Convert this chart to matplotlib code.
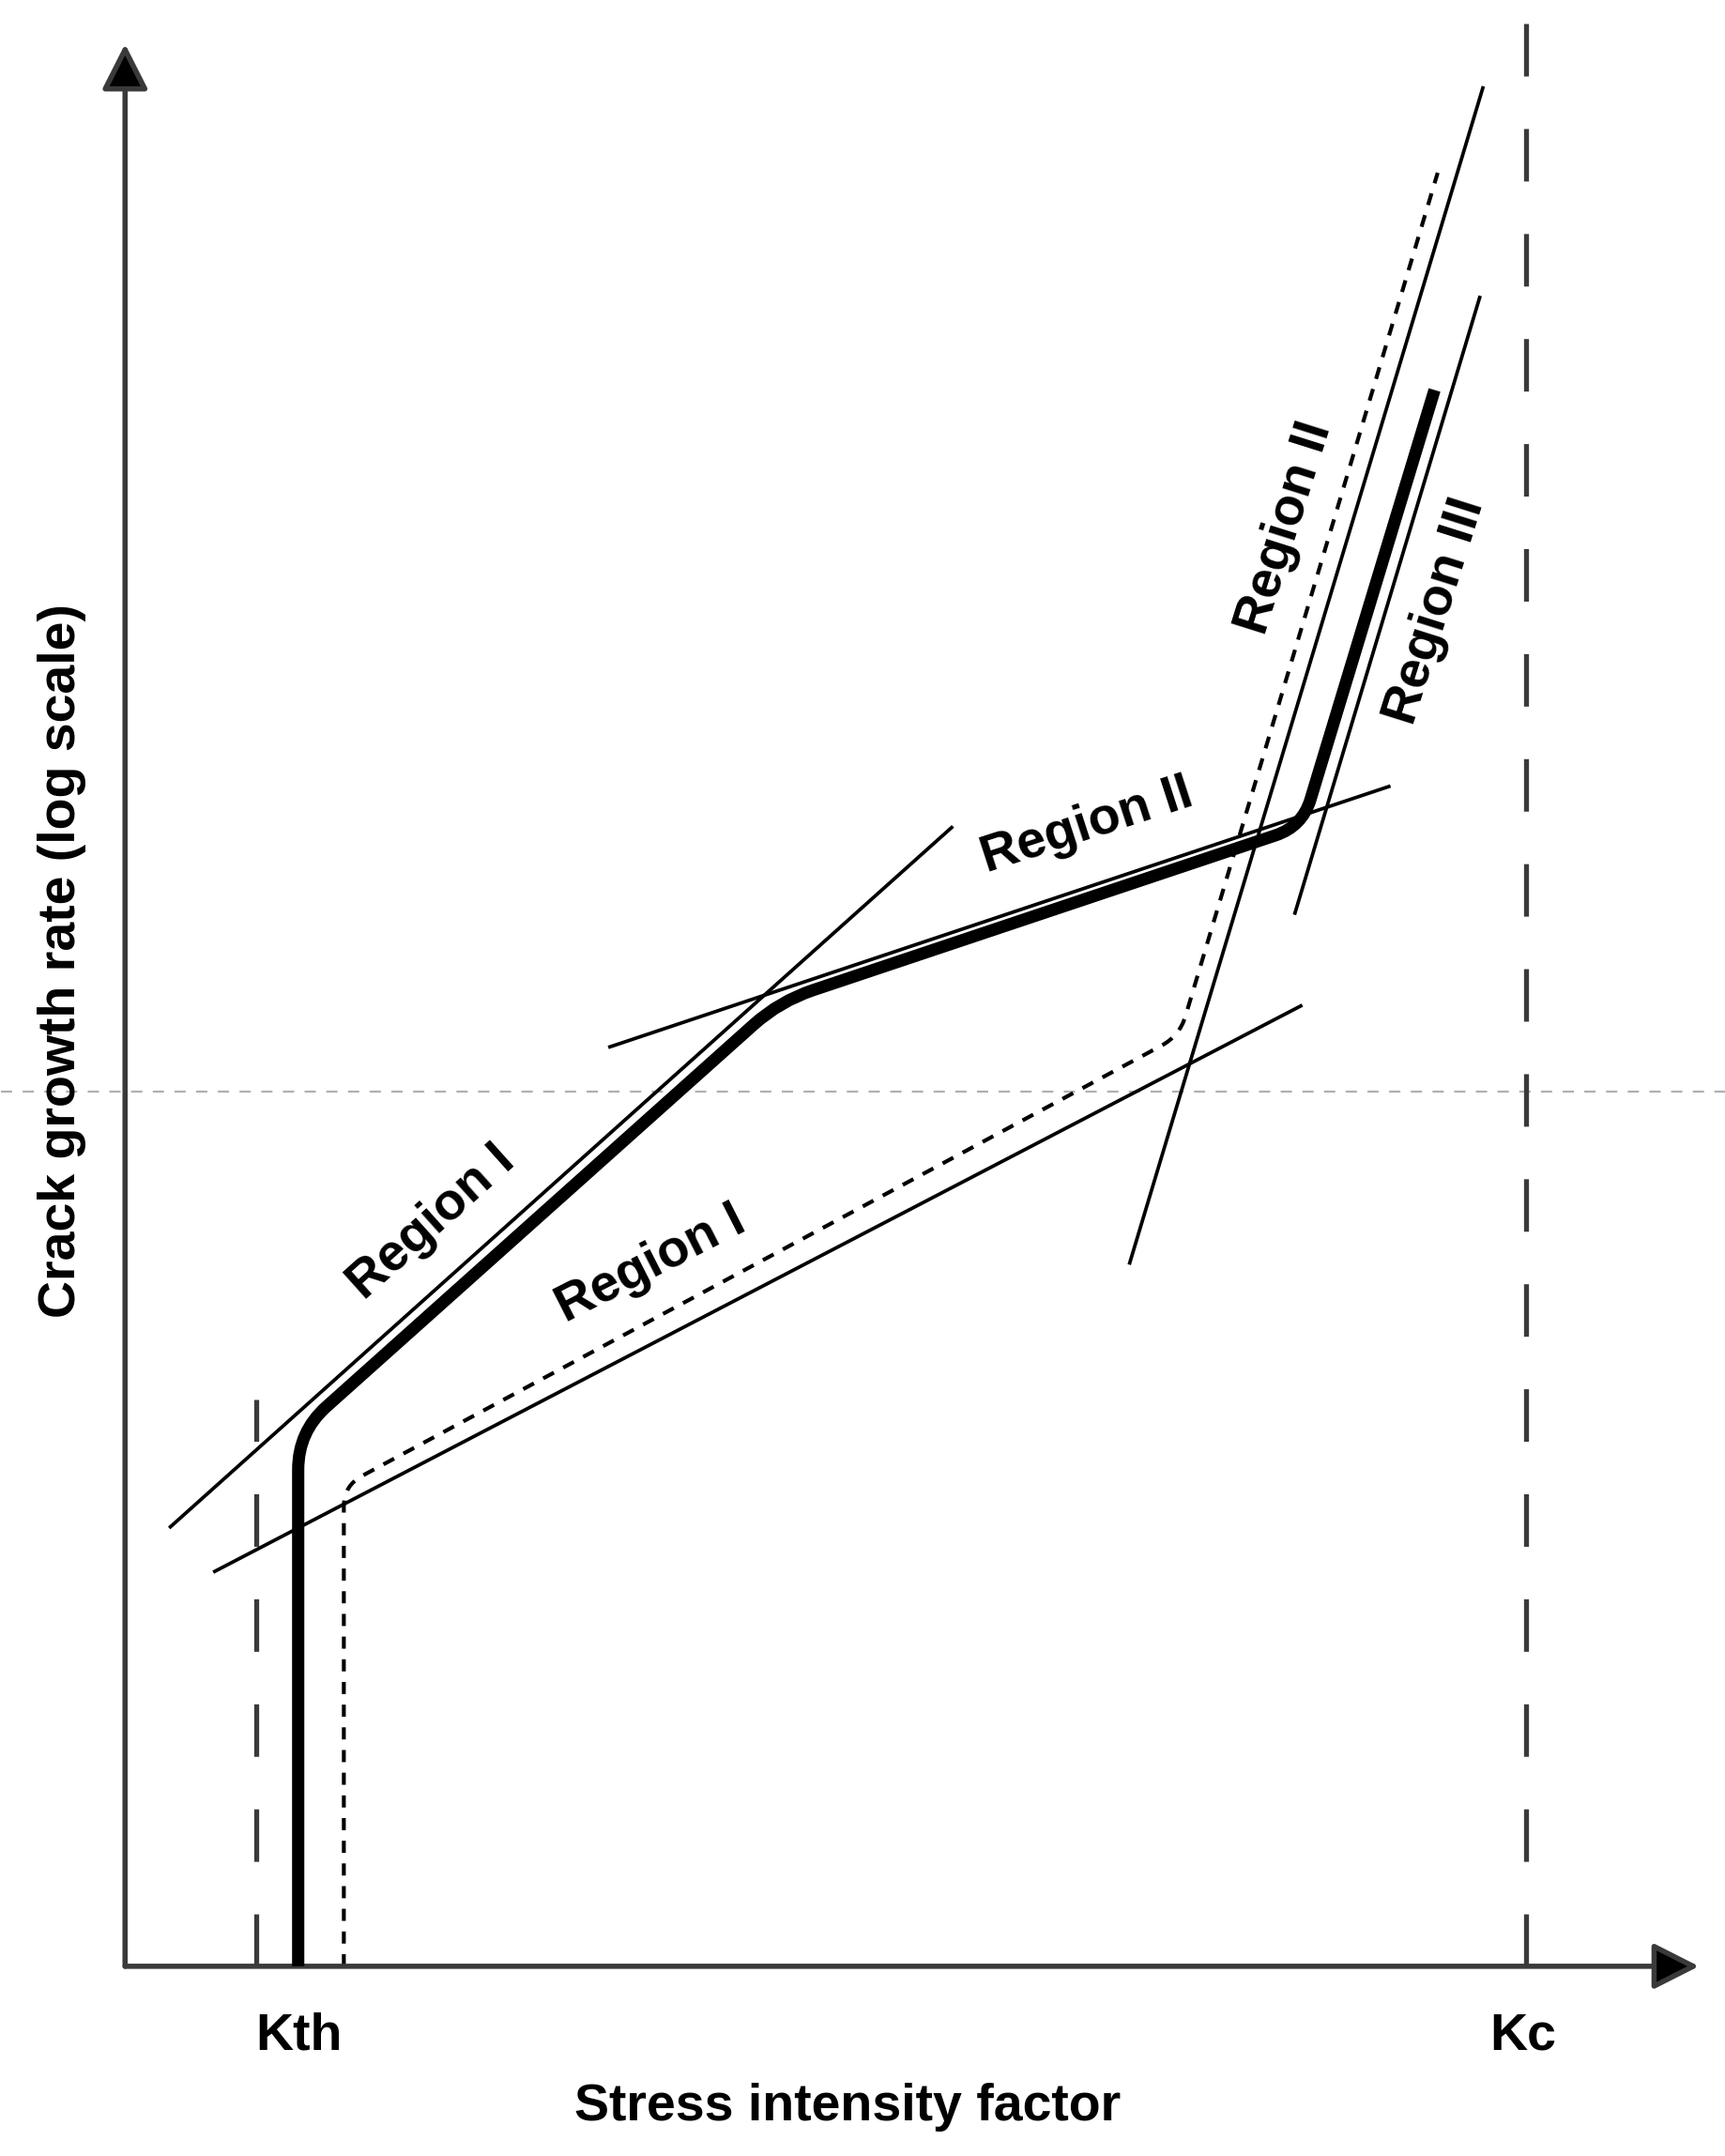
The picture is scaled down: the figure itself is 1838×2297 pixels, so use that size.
import numpy as np
import matplotlib
matplotlib.use('Agg')
import matplotlib.pyplot as plt
from matplotlib.path import Path
from matplotlib.patches import PathPatch

plt.rcParams['font.family'] = ['Liberation Sans', 'DejaVu Sans']

# schematic units: x = stress intensity factor, y = crack growth rate (log), origin at axes corner
k_th = 8.35
k_c = 89.0
ref_level = 45.5          # grey reference level

# thick curve and dashed (shifted) curve, corner points
main_x = [11.0, 11.0, 41.6, 74.8, 83.2]
main_y = [0.0, 27.8, 50.2, 59.3, 82.0]
shift_x = [13.9, 13.9, 67.0, 83.4]
shift_y = [0.0, 25.0, 48.4, 93.3]

# thin tangent lines: ([x0, x1], [y0, y1])
tangent_x = [[2.8, 52.6], [5.6, 74.8], [30.7, 80.4], [63.8, 86.3], [74.3, 86.1]]
tangent_y = [[22.8, 59.3], [20.5, 50.0], [47.8, 61.4], [36.5, 97.8], [54.7, 86.9]]

region_labels = ['Region I', 'Region I', 'Region II', 'Region II', 'Region III']
label_x = [19.5, 33.4, 61.1, 73.7, 83.3]
label_y = [38.7, 36.5, 59.3, 74.8, 70.5]
label_rot = [41.9, 27.0, 18.0, 72.5, 72.5]

DPI = 200
fig = plt.figure(figsize=(9.19, 11.485), dpi=DPI)
ax = fig.add_axes([0.0725, 0.088, 0.9124, 0.8916])
ax.set_xlim(0, 100)
ax.set_ylim(0, 100)
ax.axis('off')


def rounded(xs, ys, cuts):
    # polyline with corners rounded off (cuts given in pixels)
    pts = ax.transData.transform(np.column_stack([xs, ys]))
    verts = [pts[0]]
    codes = [Path.MOVETO]
    for i in range(1, len(pts) - 1):
        p0, p1, p2 = pts[i - 1], pts[i], pts[i + 1]
        d1 = (p0 - p1) / np.hypot(*(p0 - p1))
        d2 = (p2 - p1) / np.hypot(*(p2 - p1))
        r = cuts[i - 1]
        verts += [p1 + d1 * r, p1, p1 + d2 * r]
        codes += [Path.LINETO, Path.CURVE3, Path.CURVE3]
    verts.append(pts[-1])
    codes.append(Path.LINETO)
    verts = ax.transData.inverted().transform(np.array(verts))
    return Path(verts, codes)


# grey reference line
ax.plot([-7.9, 101.7], [ref_level, ref_level], color='#b0b0b0', lw=0.8,
        linestyle=(0, (5.4, 5.0)), clip_on=False, zorder=1)

# Kth and Kc
ax.plot([k_th, k_th], [0, 29.5], color='#3a3a3a', lw=1.9,
        linestyle=(0, (10.6, 10.6)), clip_on=False, zorder=2)
ax.plot([k_c, k_c], [0, 102.3], color='#3a3a3a', lw=1.9,
        linestyle=(0, (10.6, 10.6)), clip_on=False, zorder=2)

# tangents
for tx, ty in zip(tangent_x, tangent_y):
    ax.plot(tx, ty, color='black', lw=1.35, solid_capstyle='butt', zorder=3)

# curves
ax.add_patch(PathPatch(rounded(shift_x, shift_y, [22, 22]), fill=False, ec='black',
                       lw=1.5, linestyle=(0, (3.1, 2.7)), capstyle='butt', zorder=3))
ax.add_patch(PathPatch(rounded(main_x, main_y, [40, 37, 30]), fill=False, ec='black',
                       lw=4.7, capstyle='butt', joinstyle='round', zorder=4))

# axes with arrows
arrow = dict(arrowstyle='-|>,head_length=0.75,head_width=0.38', mutation_scale=20,
             lw=2.0, ec='#3a3a3a', fc='black', shrinkA=0, shrinkB=0)
ax.annotate('', xy=(100, 0), xytext=(0, 0), arrowprops=arrow, annotation_clip=False)
ax.annotate('', xy=(0, 100), xytext=(0, 0), arrowprops=arrow, annotation_clip=False)

# labels
for txt, x, y, r in zip(region_labels, label_x, label_y, label_rot):
    ax.text(x, y, txt, rotation=r, rotation_mode='anchor', ha='center', va='center',
            fontsize=20, fontweight='bold', zorder=5)

ax.text(11.07, -4.33, 'Kth', ha='center', va='baseline', fontsize=20, fontweight='bold')
ax.text(88.8, -4.33, 'Kc', ha='center', va='baseline', fontsize=20, fontweight='bold')
ax.text(45.9, -8.0, 'Stress intensity factor', ha='center', va='baseline',
        fontsize=20, fontweight='bold')
ax.text(-4.0, 52.3, 'Crack growth rate (log scale)', rotation=90, rotation_mode='anchor',
        ha='center', va='center', fontsize=20, fontweight='bold')

fig.savefig('out.png', dpi=DPI, facecolor='white')
